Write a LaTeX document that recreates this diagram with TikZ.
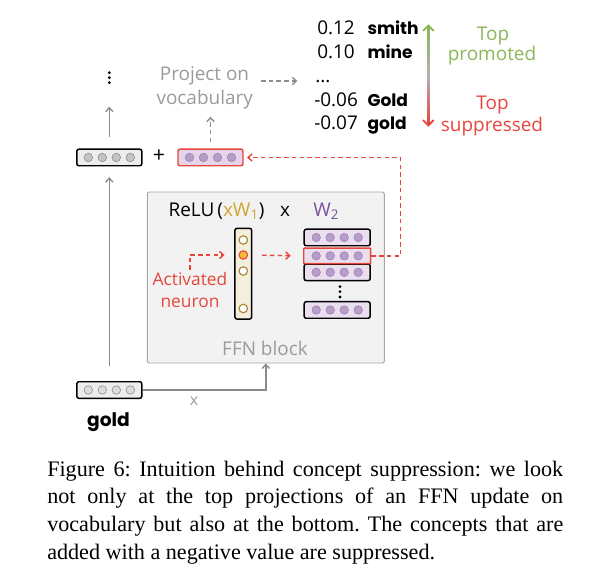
\documentclass[tikz,border=0pt]{standalone}
\usepackage{fontspec}
\setmainfont{Liberation Serif}
\setsansfont{Open Sans}
\newfontfamily\wordfont{Poppins}
\usetikzlibrary{arrows.meta,calc}
\definecolor{myred}{HTML}{E8453C}
\definecolor{mygreen}{HTML}{8DB55A}
\definecolor{txtgray}{HTML}{9A9A9A}
\definecolor{arrgray}{HTML}{8C8C8C}
\definecolor{boxgray}{HTML}{EDEDED}
\definecolor{dotgray}{HTML}{C4C4C4}
\definecolor{dotedge}{HTML}{858585}
\definecolor{wfill}{HTML}{EADFEF}
\definecolor{updfill}{HTML}{E4D5EA}
\definecolor{pdotfill}{HTML}{B89DCB}
\definecolor{pdotedge}{HTML}{9A7DB0}
\definecolor{neuronfill}{HTML}{F4EEDC}
\definecolor{neuronedge}{HTML}{A97E2C}
\definecolor{actfill}{HTML}{F6B93B}
\definecolor{ffnfill}{HTML}{F2F2F2}
\definecolor{ffnedge}{HTML}{A6A6A6}
\definecolor{goldtxt}{HTML}{CFA530}
\definecolor{purpletxt}{HTML}{7B4F9A}
\begin{document}
\begin{tikzpicture}[x=0.75pt,y=-0.75pt,
  vecbox/.style={draw=black, line width=1.1pt, rounded corners=1.5pt, minimum width=48.75pt, minimum height=12.4pt, inner sep=0pt, fill=boxgray},
  gdot/.style={circle, inner sep=0pt, minimum size=6.4pt, fill=dotgray, draw=dotedge, line width=0.4pt},
  pdot/.style={gdot, fill=pdotfill, draw=pdotedge},
  ndot/.style={circle, inner sep=0pt, minimum size=6.4pt, fill=white, draw=neuronedge, line width=0.8pt},
  wrow/.style={vecbox, minimum width=49.5pt, fill=wfill},
  lbl/.style={inner sep=0pt, anchor=base, font=\sffamily\fontsize{14.2}{16}\selectfont},
  wlbl/.style={inner sep=0pt, anchor=base west, font=\wordfont\bfseries\fontsize{12.8}{15}\selectfont},
  tip/.style={-{Straight Barb[length=3pt,width=5.5pt]}},
  grayarrow/.style={draw=arrgray, line width=1.05pt, tip},
  graydash/.style={grayarrow, dash pattern=on 3.4pt off 2.4pt},
  reddash/.style={draw=myred, line width=1.05pt, dash pattern=on 3.4pt off 2.4pt, tip},
]
\useasboundingbox (0,0) rectangle (589,577);

% FFN block
\node[draw=ffnedge, fill=ffnfill, line width=0.7pt, rounded corners=1.5pt,
      minimum width=177.75pt, minimum height=128.25pt, inner sep=0pt] (ffn) at (265.8,277.5) {};
\node[lbl, text=txtgray] (ffnlbl) at (265,355) {FFN block};
\node[lbl, anchor=base west] (relu) at (168.3,216.7) {ReLU\,(\textcolor{goldtxt}{xW\textsubscript{1}})};
\node[lbl] (mult) at (285,216.7) {x};
\node[lbl, anchor=base west, text=purpletxt] (wtwo) at (313,216.7) {W\textsubscript{2}};

% neuron column
\node[draw=black, line width=1.1pt, fill=neuronfill, rounded corners=1.5pt,
      minimum width=12.5pt, minimum height=68pt, inner sep=0pt] (col) at (243.3,273.7) {};
\node[ndot] (n1) at (243.3,240) {};
\node[ndot, fill=actfill, draw=myred] (act) at (243.3,255) {};
\node[ndot] (n3) at (243.3,271) {};
\node[ndot] (n4) at (243.3,308.5) {};

% W2 rows
\foreach \n/\y in {w1/237.5, w3/272.3, w4/310} {
  \node[wrow] (\n) at (337.2,\y) {};
  \foreach \d [count=\k] in {-21,-7,7,21} \node[pdot] (\n-\k) at ($(\n.center)+(\d,0)$) {};
}
\node[wrow, draw=myred, line width=1.1pt, rounded corners=0.5pt, minimum width=50.2pt, minimum height=11.6pt] (hl) at (337.2,255.9) {};
\foreach \d [count=\k] in {-21,-7,7,21} \node[pdot] (hl-\k) at ($(hl.center)+(\d,0)$) {};
\foreach \yy [count=\k] in {286.7,291.7,297} \fill (340,\yy) circle (1.15pt);

% Activated neuron label
\node[lbl, text=myred, font=\sffamily\fontsize{13}{15}\selectfont] (actlbl1) at (190,286) {Activated};
\node[lbl, text=myred, font=\sffamily\fontsize{13}{15}\selectfont] (actlbl2) at (190,307.7) {neuron};
\coordinate (actstart) at (190,270);
\draw[reddash] (actstart) |- ([xshift=-10.5pt]act.west);
\draw[reddash, shorten <=10.5pt, shorten >=9.2pt] (act.east) -- (hl.west);

% vectors
\node[vecbox] (res) at (109.3,157.5) {};
\foreach \d [count=\k] in {-21,-7,7,21} \node[gdot] (res-\k) at ($(res.center)+(\d,0)$) {};
\node[lbl, font=\sffamily\fontsize{16}{18}\selectfont] (plus) at (159,163) {+};
\node[vecbox, draw=myred, fill=updfill] (upd) at (210.5,157.5) {};
\foreach \d [count=\k] in {-21,-7,7,21} \node[pdot] (upd-\k) at ($(upd.center)+(\d,0)$) {};
\node[vecbox] (gold) at (109.3,390) {};
\foreach \d [count=\k] in {-21,-7,7,21} \node[gdot, fill=boxgray!60!dotgray] (gold-\k) at ($(gold.center)+(\d,0)$) {};
\node[inner sep=0pt, anchor=base, font=\wordfont\bfseries\fontsize{14}{16}\selectfont] (goldlbl) at (108.5,426.7) {gold};
\node[lbl, text=txtgray, font=\sffamily\fontsize{12}{14}\selectfont] (xlbl) at (194,405) {x};

% vertical dots
\foreach \yy in {72.7,77.7,82.7} \fill (109.3,\yy) circle (1.15pt);
\coordinate (vdtop) at (109.3,106.7);

% connectors
\draw[grayarrow, shorten <=11.5pt, shorten >=8pt] (gold.north) -- (res.south);
\draw[grayarrow, shorten <=8.5pt] (res.north) -- (vdtop);
\draw[grayarrow] (gold.east) -| (ffn.south);
\draw[reddash, shorten >=2.5pt] (hl.east) -- ++(29.3,0) |- (upd.east);

% projection
\node[lbl, text=txtgray] (proj1) at (204.5,81) {Project on};
\node[lbl, text=txtgray] (proj2) at (204.7,104.3) {vocabulary};
\coordinate (projbot) at (210.5,116.7);
\draw[graydash, shorten <=4.8pt] (upd.north) -- (projbot);
\coordinate (pa) at (261,81);
\coordinate (pb) at (297.3,81);
\draw[graydash] (pa) -- (pb);

% numbers
\node[lbl, anchor=base west] (v1) at (317,35) {0.12};
\node[lbl, anchor=base west] (v2) at (317,58.3) {0.10};
\node[lbl, anchor=base west] (v3) at (315,82.3) {...};
\node[lbl, anchor=base west] (v4) at (314,106.5) {-0.06};
\node[lbl, anchor=base west] (v5) at (314,130) {-0.07};
\node[wlbl] (t1) at (367.3,35) {smith};
\node[wlbl] (t2) at (367.3,58.3) {mine};
\node[wlbl] (t4) at (367.3,106.5) {Gold};
\node[wlbl] (t5) at (367.3,130) {gold};

% gradient arrow
\shade[top color=mygreen, bottom color=myred, middle color=gray!60] (427.3,27) rectangle (429.3,124);
\draw[mygreen, line width=1.4pt, -{Straight Barb[length=4pt,width=8pt]}] (428.3,32) -- (428.3,24.3);
\draw[myred, line width=1.4pt, -{Straight Barb[length=4pt,width=8pt]}] (428.3,119) -- (428.3,126.7);
\node[lbl, text=mygreen] (tp1) at (493,40.7) {Top};
\node[lbl, text=mygreen] (tp2) at (492,61) {promoted};
\node[lbl, text=myred] (ts1) at (492.5,110) {Top};
\node[lbl, text=myred] (ts2) at (492,131.7) {suppressed};

% caption
\node[inner sep=0pt, anchor=base west, text width=387pt, align=justify,
      font=\rmfamily\fontsize{16.6}{20.9}\selectfont] (cap) at (47,476)
  {\frenchspacing\hyphenpenalty=10000
   Figure 6: Intuition behind concept suppression: we look\linebreak
   not only at the top projections of an FFN update on\linebreak
   vocabulary but also at the bottom. The concepts that are\linebreak
   added with a negative value are suppressed.};
\end{tikzpicture}
\end{document}
